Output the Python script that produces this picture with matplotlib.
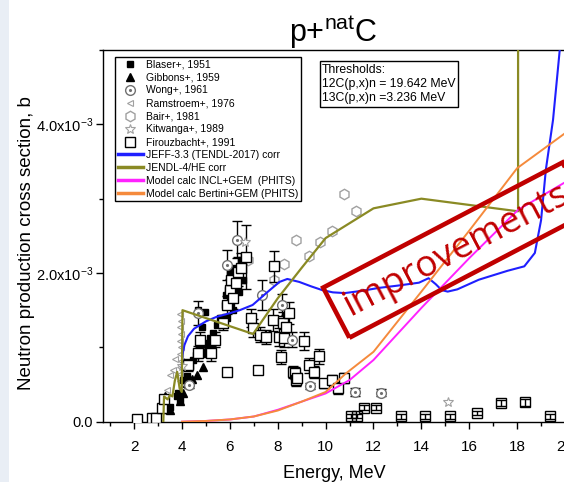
import numpy as np
import matplotlib
matplotlib.use('Agg')
import matplotlib.pyplot as plt
import matplotlib.ticker as ticker
from matplotlib.patches import Rectangle

plt.rcParams['font.family'] = ['Liberation Sans', 'DejaVu Sans']
plt.rcParams['mathtext.fontset'] = 'custom'
plt.rcParams['mathtext.rm'] = 'Liberation Sans'
plt.rcParams['mathtext.it'] = 'Liberation Sans:italic'

# ---- experimental data (x in MeV, y in 1e-3 b) ----
blaser_x = [3.2, 3.5, 3.78, 3.84, 3.92, 4.05, 4.2, 4.35, 4.46, 4.6, 4.75, 4.82, 4.67, 4.96, 5.03,
            5.15, 5.3, 5.45, 5.6, 5.79, 5.85, 5.9, 5.93, 6.0, 6.05, 6.1, 6.15, 6.2, 6.3, 6.4,
            6.48, 6.55, 6.62]
blaser_y = [0.16, 0.2, 0.34, 0.38, 0.29, 0.56, 0.62, 0.75, 0.83, 0.9, 1.0, 1.28, 1.5, 1.48, 1.06,
            1.12, 1.19, 1.3, 1.4, 1.57, 1.7, 1.4, 1.77, 2.0, 1.6, 1.9, 1.5, 2.07, 1.95, 1.75,
            2.18, 1.9, 2.2]

gibbons_x = [3.29, 3.5, 3.92, 4.06, 4.2, 4.4, 4.61, 4.89, 4.96, 5.03, 5.2]
gibbons_y = [0.34, 0.16, 0.28, 0.38, 0.52, 0.58, 0.63, 0.74, 0.92, 1.01, 1.05]

wong_x = [4.3, 4.67, 5.87, 6.3, 7.35, 8.18, 8.6, 9.35, 11.23, 12.3]
wong_y = [0.5, 1.46, 2.11, 2.45, 1.7, 1.57, 1.1, 0.48, 0.40, 0.39]
wong_err = [0.05, 0.16, 0.2, 0.25, 0.2, 0.15, 0.1, 0.04, 0.05, 0.05]

ramst_x = [3.22, 3.29, 3.36, 3.5, 3.64, 3.7, 3.9, 3.93, 3.9, 3.94, 3.91, 3.95, 3.92, 3.96,
           3.93, 3.95, 3.92]
ramst_y = [0.29, 0.2, 0.43, 0.63, 0.7, 0.85, 0.55, 0.64, 0.73, 0.82, 0.91, 1.0, 1.09, 1.18,
           1.27, 1.36, 1.45]

bair_x = [6.75, 7.86, 8.28, 8.77, 9.29, 9.76, 10.26, 10.77, 11.28]
bair_y = [2.17, 1.91, 2.12, 2.44, 2.23, 2.42, 2.57, 3.06, 2.84]

kitw_x = [4.0, 6.62, 15.1]
kitw_y = [0.75, 2.42, 0.27]

firou_x = [2.1, 2.75, 2.9, 3.15, 3.25, 4.26, 4.67, 4.75, 5.23, 5.37, 5.7, 5.86, 6.0, 6.06, 6.13,
           6.27, 6.33, 6.48, 6.69, 6.9, 6.96, 7.24, 7.52, 7.8, 7.86, 8.07, 8.14, 8.2, 8.28, 8.35,
           8.49, 8.63, 8.7, 8.77, 8.82, 9.11, 9.32, 9.53, 9.73, 9.94, 10.28, 10.53, 10.77, 5.86,
           7.17, 11.05, 11.3, 11.6, 12.1, 13.15, 14.17, 15.18, 16.34, 17.34, 18.34, 19.36]
firou_y = [0.04, 0.05, 0.05, 0.18, 0.3, 0.76, 0.92, 1.1, 0.92, 1.1, 1.33, 1.57, 1.77, 1.91, 1.66,
           1.87, 2.02, 2.07, 2.22, 1.39, 1.26, 1.17, 1.14, 1.37, 2.09, 1.14, 0.87, 1.33, 1.13, 1.28,
           1.46, 0.67, 0.65, 0.56, 0.59, 1.08, 0.76, 0.67, 0.88, 0.52, 0.56, 0.45, 0.59, 0.67,
           0.7, 0.08, 0.08, 0.19, 0.19, 0.07, 0.07, 0.07, 0.12, 0.25, 0.26, 0.07]
firou_err = [0.03, 0.03, 0.03, 0.05, 0.05, 0.08, 0.1, 0.1, 0.1, 0.1, 0.1, 0.12, 0.15, 0.15, 0.15,
             0.15, 0.2, 0.2, 0.43, 0.12, 0.12, 0.1, 0.1, 0.15, 0.21, 0.12, 0.1, 0.15, 0.12, 0.15,
             0.15, 0.08, 0.08, 0.08, 0.07, 0.12, 0.1, 0.08, 0.1, 0.06, 0.07, 0.08, 0.07, 0.05,
             0.05, 0.03, 0.03, 0.03, 0.03, 0.03, 0.03, 0.03, 0.03, 0.04, 0.05, 0.03]

# ---- evaluations / model calculations ----
jeff_x = [3.99, 4.02, 4.1, 4.25, 4.5, 5.0, 5.44, 6.0, 6.41, 6.95, 7.52, 8.07, 8.4, 8.9, 9.4, 9.86,
          10.3, 10.8, 11.5, 12.23, 13.0, 13.9, 14.3, 14.6, 14.85, 15.1, 15.5, 16.4, 17.0, 17.6,
          18.3, 18.74, 19.0, 19.2, 19.5, 19.78, 19.85]
jeff_y = [0.74, 0.9, 1.03, 1.15, 1.25, 1.35, 1.41, 1.46, 1.50, 1.57, 1.73, 1.88, 1.92, 1.88, 1.82,
          1.77, 1.74, 1.73, 1.76, 1.80, 1.83, 1.87, 1.93, 1.85, 1.77, 1.75, 1.78, 1.91, 1.97, 2.03,
          2.09, 2.27, 2.71, 3.39, 4.06, 5.0, 5.5]

jendl_x = [3.22, 3.25, 3.4, 3.5, 3.6, 3.7, 3.8, 3.9, 3.99, 4.02, 6.97, 8.0, 9.0, 10.0, 12.0, 14.0,
           18.04, 18.04]
jendl_y = [0.0, 0.34, 0.3, 0.36, 0.34, 0.55, 0.67, 0.45, 0.4, 1.5, 1.18, 1.66, 2.07, 2.47, 2.87,
           3.0, 2.83, 5.5]

incl_x = [4.0, 5.0, 6.0, 7.0, 8.0, 9.0, 10.0, 11.0, 12.0, 14.0, 16.0, 18.04, 20.0, 21.0]
incl_y = [0.0, 0.01, 0.03, 0.07, 0.16, 0.27, 0.38, 0.56, 0.83, 1.53, 2.2, 2.85, 3.22, 3.4]

bert_x = [4.0, 5.0, 6.0, 7.0, 8.0, 9.0, 10.0, 10.85, 12.0, 14.0, 16.0, 18.0, 20.0, 21.0]
bert_y = [0.0, 0.01, 0.03, 0.07, 0.15, 0.27, 0.40, 0.65, 0.94, 1.75, 2.57, 3.41, 3.88, 4.1]

sc = 1e-3

fig = plt.figure(figsize=(5.64, 4.82), dpi=100)
fig.patches.append(Rectangle((0, 0), 9 / 564, 1, transform=fig.transFigure,
                             facecolor='#e9eef5', edgecolor='none', zorder=-10))
ax = fig.add_axes([103 / 564, 60.3 / 482, 462 / 564, 371.7 / 482])

gray = '#a0a0a0'
dgray = '#707070'

fx = np.array(firou_x)
fy = np.array(firou_y) * sc
fe = np.array(firou_err) * sc
hi = fx > 10.9
# low-energy cluster: white-filled squares
ax.errorbar(fx[~hi], fy[~hi], yerr=fe[~hi], fmt='s', ms=7, mfc='white', mec='black', mew=1.0,
            ecolor='black', elinewidth=1, capsize=3.5, zorder=4)
# high-energy points: open squares, error bars visible inside
ax.errorbar(fx[hi], fy[hi], yerr=fe[hi], fmt='s', ms=7, mfc='none', mec='black', mew=1.0,
            ecolor='black', elinewidth=1, capsize=3.5, zorder=4)
h_firou = ax.plot([], [], 's', ms=7, mfc='white', mec='black', mew=1.0)[0]
h_blaser = ax.plot(blaser_x, np.array(blaser_y) * sc, 's', ms=5, color='black', zorder=3)[0]
h_gibbons = ax.plot(gibbons_x, np.array(gibbons_y) * sc, '^', ms=6, color='black', zorder=3)[0]
ax.errorbar(wong_x, np.array(wong_y) * sc, yerr=np.array(wong_err) * sc, fmt='none',
            ecolor='black', elinewidth=1, capsize=3.5, zorder=4)
h_wong1 = ax.plot(wong_x, np.array(wong_y) * sc, 'o', ms=7, mfc='white', mec=dgray, mew=1.0,
                  zorder=5)[0]
h_wong2 = ax.plot(wong_x, np.array(wong_y) * sc, '.', ms=2.5, color=dgray, zorder=5)[0]
h_ramst = ax.plot(ramst_x, np.array(ramst_y) * sc, '<', ms=5, mfc='white', mec=gray, mew=0.8,
                  zorder=2)[0]
h_bair = ax.plot(bair_x, np.array(bair_y) * sc, 'h', ms=7.5, mfc='white', mec=gray, mew=1.0,
                 zorder=2)[0]
h_kitw = ax.plot(kitw_x, np.array(kitw_y) * sc, '*', ms=7, mfc='white', mec=gray, mew=0.8,
                 zorder=5)[0]

h_jeff, = ax.plot(jeff_x, np.array(jeff_y) * sc, color='#1f1fff', lw=1.5, zorder=6)
h_jendl, = ax.plot(jendl_x, np.array(jendl_y) * sc, color='#8a8a24', lw=1.6, zorder=6)
h_incl, = ax.plot(incl_x, np.array(incl_y) * sc, color='#ff22ff', lw=1.4, zorder=6)
h_bert, = ax.plot(bert_x, np.array(bert_y) * sc, color='#f58a3c', lw=1.4, zorder=6)

ax.set_xlim(0.7, 20.0)
ax.set_ylim(0, 5e-3)
ax.xaxis.set_major_locator(ticker.MultipleLocator(2))
ax.xaxis.set_minor_locator(ticker.MultipleLocator(1))
ax.yaxis.set_major_locator(ticker.MultipleLocator(2e-3))
ax.yaxis.set_minor_locator(ticker.MultipleLocator(1e-3))


def yfmt(v, pos):
    if abs(v) < 1e-9:
        return '0.0'
    return '%.1fx10$^{-3}$' % (v / 1e-3)


ax.yaxis.set_major_formatter(ticker.FuncFormatter(yfmt))
ax.tick_params(which='major', direction='out', length=5, width=1, labelsize=11, colors='black')
ax.tick_params(which='minor', direction='out', length=3, width=1)
ax.tick_params(axis='x', pad=8)
ax.tick_params(axis='y', pad=2, labelsize=10.5)
for s in ['left', 'bottom', 'top', 'right']:
    ax.spines[s].set_linewidth(1.0)

ax.set_xlabel('Energy, MeV', fontsize=13, labelpad=8)
ax.set_ylabel('Neutron production cross section, b', fontsize=13.5, labelpad=2)
ax.yaxis.set_label_coords(-0.148, 0.48)
fig.text(333 / 564, 1 - 42 / 482, 'p+$^{\\mathrm{nat}}$C', fontsize=22, ha='center',
         va='baseline')

handles = [h_blaser, h_gibbons, (h_wong1, h_wong2), h_ramst, h_bair, h_kitw, h_firou,
           h_jeff, h_jendl, h_incl, h_bert]
labels = ['Blaser+, 1951', 'Gibbons+, 1959', 'Wong+, 1961', 'Ramstroem+, 1976', 'Bair+, 1981',
          'Kitwanga+, 1989', 'Firouzbacht+, 1991', 'JEFF-3.3 (TENDL-2017) corr',
          'JENDL-4/HE corr', 'Model calc INCL+GEM  (PHITS)', 'Model calc Bertini+GEM (PHITS)']
leg = ax.legend(handles, labels, loc='upper left', bbox_to_anchor=(0.026, 0.981), fontsize=7.5,
                frameon=True, fancybox=False, edgecolor='black', framealpha=1,
                labelspacing=0.28, handlelength=2.4, handletextpad=0.3, borderpad=0.25,
                borderaxespad=0)
leg.get_frame().set_linewidth(1.0)
for ln in leg.get_lines():
    if ln.get_linestyle() == '-':
        ln.set_linewidth(2.5)

ax.text(0.474, 0.963, 'Thresholds:\n12C(p,x)n = 19.642 MeV\n13C(p,x)n =3.236 MeV',
        transform=ax.transAxes, fontsize=8.8, va='top', ha='left', linespacing=1.25,
        bbox=dict(boxstyle='square,pad=0.2', fc='white', ec='black', lw=1.0), zorder=8)

fig.text(345.4 / 564, 1 - 307.9 / 482, 'improvements', fontsize=26.5, family='Open Sans',
         color='#c00000', rotation=27.6, rotation_mode='anchor', ha='left', va='center',
         bbox=dict(boxstyle='square,pad=0.28', fc='none', ec='#c00000', lw=3.3), zorder=10)

fig.savefig('out.png', dpi=100)
